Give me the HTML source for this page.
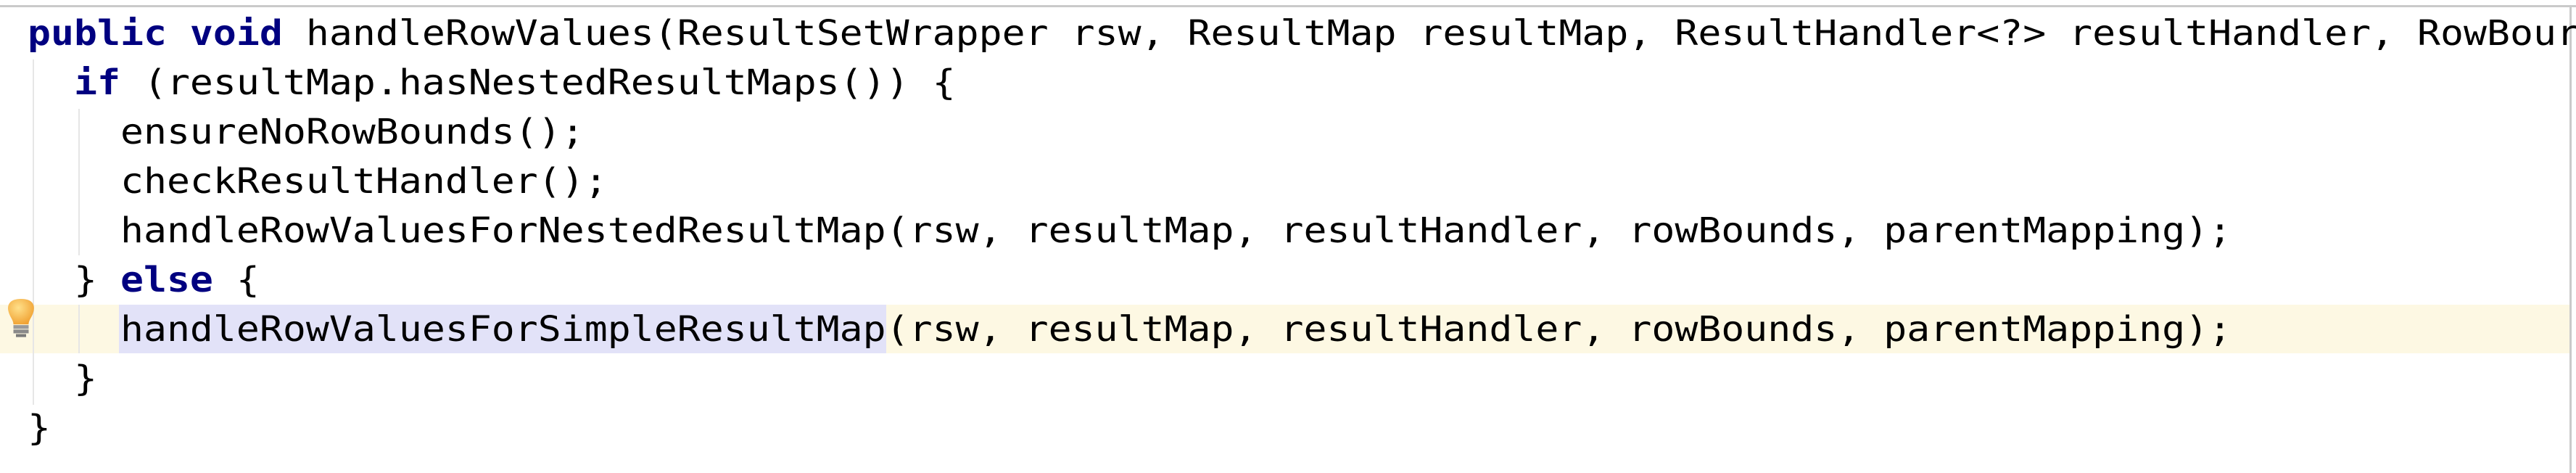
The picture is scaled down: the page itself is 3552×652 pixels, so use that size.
<!DOCTYPE html>
<html><head><meta charset="utf-8"><style>
html,body{margin:0;padding:0;width:3552px;height:652px;background:#fff;overflow:hidden;position:relative}
.topb{position:absolute;left:0;top:7px;width:3552px;height:3px;background:#cacaca}
.rb{position:absolute;left:3543px;top:7px;width:3px;height:645px;background:#cacaca}
.band{position:absolute;left:0;top:420px;width:3543px;height:67px;background:#fdf8e3}
.sel{position:absolute;left:164px;top:420px;width:1058px;height:67px;background:#e2e2f8}
.g{position:absolute;width:2px;background:#e6e6e6}
.code{position:absolute;left:38px;top:12px;font-family:"DejaVu Sans Mono","Liberation Mono",monospace;font-size:48px;line-height:68px;color:#000;white-space:pre;transform:scaleX(1.107);transform-origin:0 0}
.k{color:#000080;font-weight:bold}
</style></head><body>
<div class="topb"></div><div class="rb"></div>
<div class="band"></div><div class="sel"></div>
<div class="g" style="left:45px;top:82px;height:476px"></div>
<div class="g" style="left:108px;top:150px;height:202px"></div>
<div class="g" style="left:108px;top:420px;height:67px"></div>
<svg style="position:absolute;left:8px;top:410px" width="42" height="68" viewBox="0 0 24 66" preserveAspectRatio="none">
<defs><radialGradient id="b" cx="0.4" cy="0.35" r="0.7"><stop offset="0" stop-color="#ffe08a"/><stop offset="1" stop-color="#f0a030"/></radialGradient></defs>
<path d="M12 2 C3 2 1 10 2 18 C3 26 6 30 6 36 L18 36 C18 30 21 26 22 18 C23 10 21 2 12 2Z" fill="url(#b)"/>
<rect x="6" y="37" width="12" height="5" fill="#9a9a9a"/><rect x="6" y="43" width="12" height="5" fill="#8a8a8a"/><rect x="8" y="49" width="8" height="4" fill="#7a7a7a"/>
</svg>
<div class="code"><span class="k">public void</span> handleRowValues(ResultSetWrapper rsw, ResultMap resultMap, ResultHandler&lt;?&gt; resultHandler, RowBour
  <span class="k">if</span> (resultMap.hasNestedResultMaps()) {
    ensureNoRowBounds();
    checkResultHandler();
    handleRowValuesForNestedResultMap(rsw, resultMap, resultHandler, rowBounds, parentMapping);
  } <span class="k">else</span> {
    handleRowValuesForSimpleResultMap(rsw, resultMap, resultHandler, rowBounds, parentMapping);
  }
}</div>
</body></html>
